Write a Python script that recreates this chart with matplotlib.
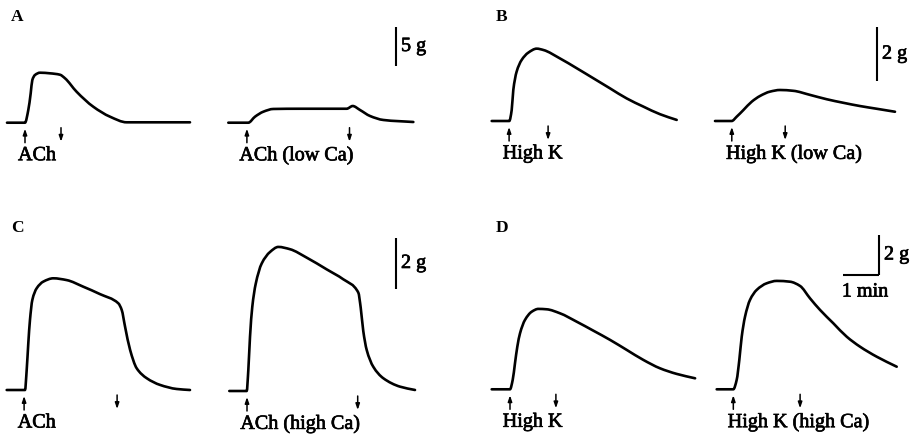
import matplotlib
matplotlib.use("Agg")
import matplotlib.pyplot as plt
from matplotlib.path import Path
from matplotlib.patches import PathPatch
import matplotlib.patheffects as pe
import numpy as np

# ---------------- data: time (s) and tension (g) ----------------
a1_t = [0, 30, 35.5, 39.5, 42.2, 46.7, 55, 71.7, 88.3, 96.7, 116, 143.8, 171.7, 199.5, 305]
a1_g = [0, 0, 1.63, 3.77, 5.47, 6.12, 6.41, 6.33, 6.15, 5.69, 3.97, 2.05, 0.77, 0.05, 0.05]
a2_t = [0, 33.3, 44.5, 58.4, 75, 119.5, 197.3, 207.3, 219.5, 236.2, 258.4, 308.4]
a2_g = [0, 0, 0.77, 1.41, 1.76, 1.79, 1.79, 2.14, 1.63, 0.86, 0.35, 0.09]

b1_t = [0, 29.3, 33.3, 36, 41.5, 49.8, 60.8, 75, 86.2, 113.8, 141.7, 169.5, 197.2, 225, 252.7, 280.5, 308.3]
b1_g = [0, 0, 0.40, 1.14, 1.81, 2.24, 2.51, 2.66, 2.61, 2.30, 1.94, 1.57, 1.20, 0.83, 0.53, 0.25, 0.04]
b2_t = [0, 27.8, 36.2, 47.2, 61.2, 75, 91.7, 108.3, 130.5, 158.3, 186.2, 213.8, 241.7, 269.5, 300]
b2_g = [0, 0, 0.16, 0.40, 0.71, 0.92, 1.08, 1.14, 1.11, 0.96, 0.80, 0.67, 0.55, 0.45, 0.34]

c1_t = [0, 30.5, 33.3, 36, 38.8, 42.7, 50, 61, 77.7, 100, 127.7, 155.5, 186, 191.7, 197.3, 205.7,
        216.7, 233.5, 255.5, 283.3, 305.5]
c1_g = [0, 0, 0.78, 1.83, 2.75, 3.53, 3.99, 4.25, 4.38, 4.31, 4.05, 3.76, 3.40, 3.14, 2.48, 1.57,
        0.85, 0.46, 0.20, 0.04, 0]
c2_t = [0, 29, 31.7, 34.5, 38.3, 44, 54, 67.8, 81.7, 101.2, 129, 162.3, 190, 215, 219, 223.3,
        229, 240, 256.7, 284.5, 309.5]
c2_g = [0, 0, 0.82, 2.12, 3.3, 4.2, 5.0, 5.45, 5.65, 5.56, 5.23, 4.77, 4.38, 3.86, 3.27, 2.35,
        1.61, 0.95, 0.50, 0.17, 0.04]

d1_t = [0, 30.5, 35, 38.8, 42.7, 47.2, 55.5, 66.7, 77.7, 91.7, 113.8, 141.7, 169.5, 197.3, 225,
        252.7, 280.5, 308.3, 339]
d1_g = [0, 0, 0.47, 1.3, 2.13, 2.8, 3.47, 3.88, 4.02, 4.0, 3.8, 3.38, 2.93, 2.47, 1.97, 1.47,
        1.05, 0.77, 0.55]
d2_t = [0, 27.7, 33.3, 37.7, 41.7, 47.2, 55.5, 66.7, 83.3, 100, 122.2, 138.8, 155.5, 172.2,
        194.4, 216.7, 238.9, 266.7, 300]
d2_g = [0, 0, 0.47, 1.47, 2.63, 3.63, 4.47, 4.97, 5.3, 5.42, 5.38, 5.17, 4.55, 3.97, 3.3, 2.63,
        2.13, 1.63, 1.13]

# stimulus on (up arrow) / off (down arrow) times, s
stim_on = {"A1": 30, "A2": 31, "B1": 29, "B2": 28, "C1": 29, "C2": 29.5, "D1": 30.5, "D2": 27.7}
stim_off = {"A1": 90, "A2": 202, "B1": 94, "B2": 117, "C1": 184, "C2": 214, "D1": 107, "D2": 139}

labels = {"A1": "ACh", "A2": "ACh (low Ca)", "B1": "High K", "B2": "High K (low Ca)",
          "C1": "ACh", "C2": "ACh (high Ca)", "D1": "High K", "D2": "High K (high Ca)"}
panel_letters = ["A", "B", "C", "D"]
scale_g = {"A": 5, "B": 2, "C": 2, "D": 2}
scale_min = 1

traces = {"A1": (a1_t, a1_g), "A2": (a2_t, a2_g), "B1": (b1_t, b1_g), "B2": (b2_t, b2_g),
          "C1": (c1_t, c1_g), "C2": (c2_t, c2_g), "D1": (d1_t, d1_g), "D2": (d2_t, d2_g)}

# ---------------- layout (pixels) ----------------
W, H = 919, 438
px_per_s = 36 / 60.0
px_per_g = {"A": 7.8, "B": 27.2, "C": 25.5, "D": 20.0}
origin = {"A1": (7, 122.7), "A2": (228.3, 122.7), "B1": (491.7, 121), "B2": (715, 121),
          "C1": (6.7, 390), "C2": (229.3, 391), "D1": (491.7, 389.3), "D2": (716.7, 389.3)}
letter_pos = {"A": (11, 17), "B": (496, 17), "C": (11, 228), "D": (496, 228)}
bar_pos = {"A": (396, 27), "B": (877, 27), "C": (396, 238), "D": (879, 235)}

TEXT_FX = [pe.withStroke(linewidth=0.5, foreground="black")]


def pchip_slopes(x, y):
    x = np.asarray(x, float)
    y = np.asarray(y, float)
    h = np.diff(x)
    d = np.diff(y) / h
    n = len(x)
    m = np.zeros(n)
    m[0] = d[0]
    m[-1] = d[-1]
    for k in range(1, n - 1):
        if d[k - 1] * d[k] <= 0:
            m[k] = 0.0
        else:
            w1 = 2 * h[k] + h[k - 1]
            w2 = h[k] + 2 * h[k - 1]
            m[k] = (w1 + w2) / (w1 / d[k - 1] + w2 / d[k])
    return m


def smooth_path(xs, ys):
    m = pchip_slopes(xs, ys)
    verts = [(xs[0], ys[0])]
    codes = [Path.MOVETO]
    for i in range(len(xs) - 1):
        hh = xs[i + 1] - xs[i]
        verts += [(xs[i] + hh / 3, ys[i] + m[i] * hh / 3),
                  (xs[i + 1] - hh / 3, ys[i + 1] - m[i + 1] * hh / 3),
                  (xs[i + 1], ys[i + 1])]
        codes += [Path.CURVE4] * 3
    return Path(verts, codes)


plt.rcParams["font.family"] = ["Liberation Serif", "DejaVu Serif"]
fig = plt.figure(figsize=(W / 100, H / 100), dpi=100)
ax = fig.add_axes([0, 0, 1, 1])
ax.set_xlim(0, W)
ax.set_ylim(H, 0)
ax.axis("off")

for key, (t, g) in traces.items():
    p = key[0]
    x0, y0 = origin[key]
    xs = x0 + np.asarray(t) * px_per_s
    ys = y0 - np.asarray(g) * px_per_g[p]
    ax.add_patch(PathPatch(smooth_path(xs, ys), facecolor="none", edgecolor="black",
                           lw=1.9, capstyle="round", joinstyle="round"))
    # arrows
    xon = x0 + stim_on[key] * px_per_s
    xoff = x0 + stim_off[key] * px_per_s
    ax.annotate("", xy=(xon, y0 + 6), xytext=(xon, y0 + 20),
                arrowprops=dict(arrowstyle="-|>,head_length=0.35,head_width=0.12",
                                color="black", lw=1.1, shrinkA=0, shrinkB=0))
    ax.annotate("", xy=(xoff, y0 + 19), xytext=(xoff, y0 + 5),
                arrowprops=dict(arrowstyle="-|>,head_length=0.35,head_width=0.12",
                                color="black", lw=1.1, shrinkA=0, shrinkB=0))
    ax.text(x0 + 11, y0 + 33, labels[key], fontsize=14.5, ha="left", va="center",
            path_effects=TEXT_FX)

for p in panel_letters:
    lx, ly = letter_pos[p]
    ax.text(lx, ly, p, fontsize=12.5, fontweight="bold", ha="left", va="center")
    bx, by = bar_pos[p]
    bh = scale_g[p] * px_per_g[p]
    ax.plot([bx, bx], [by, by + bh], color="black", lw=1.5, solid_capstyle="butt")
    ax.text(bx + 5, by + bh / 2, f"{scale_g[p]} g", fontsize=14.5, ha="left", va="center",
            path_effects=TEXT_FX)
    if p == "D":
        bw = scale_min * 60 * px_per_s
        ax.plot([bx - bw, bx], [by + bh, by + bh], color="black", lw=1.5, solid_capstyle="butt")
        ax.text(bx - bw / 2 + 4, by + bh + 17, f"{scale_min} min", fontsize=14.5,
                ha="center", va="center", path_effects=TEXT_FX)

fig.savefig("out.png", dpi=100)
